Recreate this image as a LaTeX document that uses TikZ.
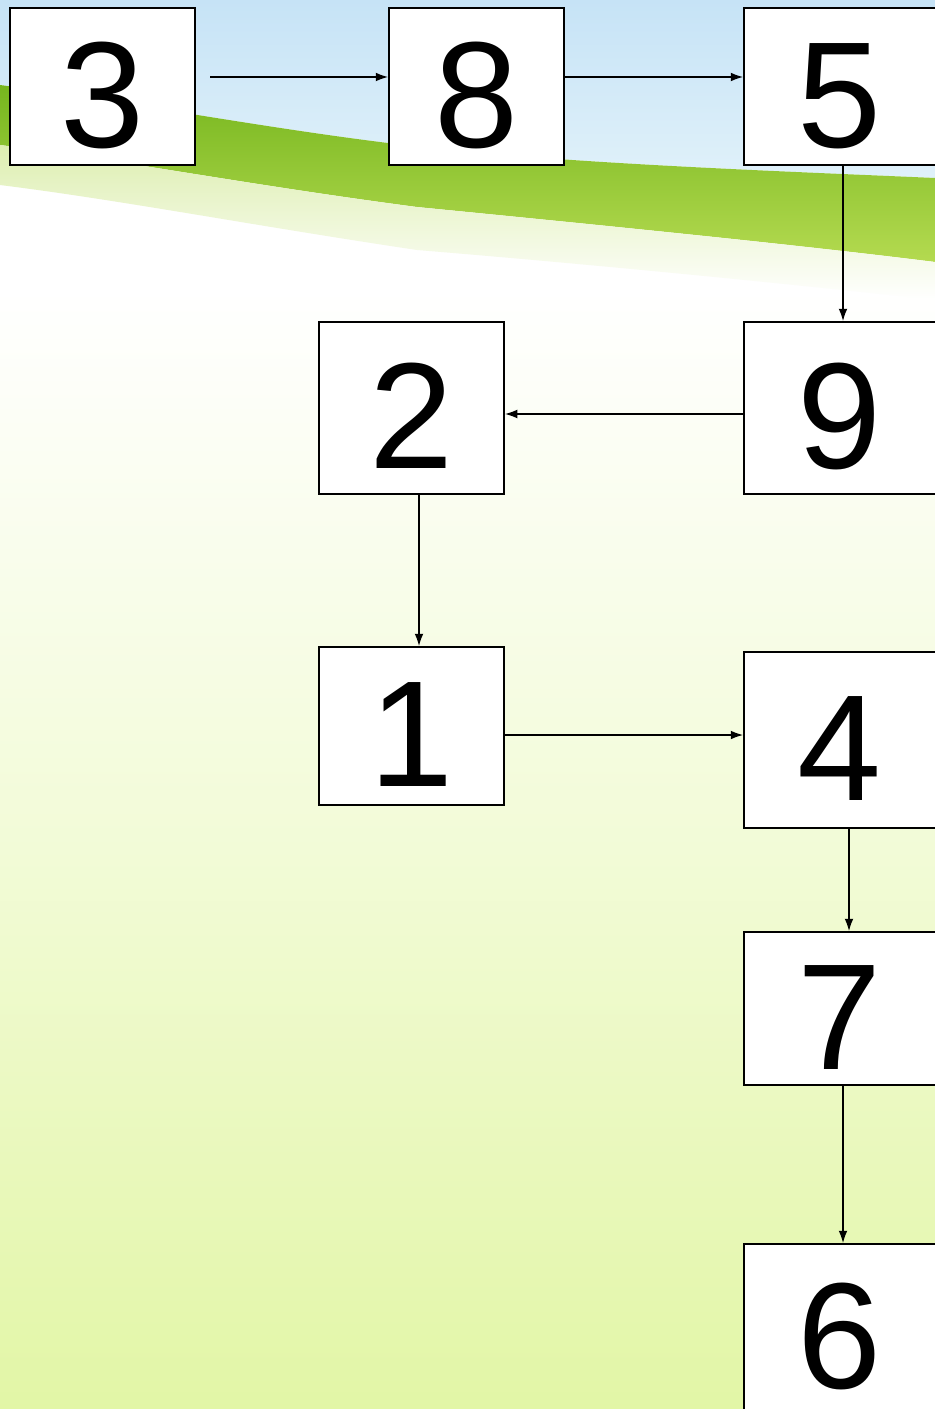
\documentclass[tikz,border=0pt]{standalone}
\usepackage{fontspec}
\setmainfont{Liberation Sans}
\usetikzlibrary{arrows.meta,positioning,calc}

\definecolor{skytop}{RGB}{198,227,246}
\definecolor{skylow}{RGB}{224,241,250}
\definecolor{grassdark}{RGB}{118,182,30}
\definecolor{grasslight}{RGB}{180,218,80}
\definecolor{meadow}{RGB}{226,246,166}

\tikzset{
  numbox/.style={draw, line width=1.1pt, fill=white, inner sep=0pt,
    text height=69pt, text depth=0pt,
    font=\fontsize{86}{90}\selectfont},
  link/.style={-{Latex[length=7pt,width=5pt]}, line width=0.75pt},
}

\begin{document}
\begin{tikzpicture}[x=0.02cm,y=-0.02cm]
\useasboundingbox (0,0) rectangle (935,1409);
\clip (0,0) rectangle (935,1409);
% background
\fill[white] (0,0) rectangle (935,1409);
\shade[top color=white, bottom color=meadow, middle color=meadow!45!white] (0,290) rectangle (935,1409);
\shade[top color=skytop, bottom color=skylow] (0,0) -- (935,0) -- (935,178)
  .. controls (800,172) and (600,165) .. (450,150)
  .. controls (300,135) and (150,105) .. (0,85) -- cycle;
\shade[top color=grassdark, bottom color=grasslight] (0,85)
  .. controls (150,105) and (300,135) .. (450,150)
  .. controls (600,165) and (800,172) .. (935,178) -- (935,262)
  .. controls (800,245) and (600,225) .. (417,207)
  .. controls (250,185) and (120,160) .. (0,145) -- cycle;
\shade[top color=grasslight!45!white, bottom color=white] (0,145)
  .. controls (120,160) and (250,185) .. (417,207)
  .. controls (600,225) and (800,245) .. (935,262) -- (935,300)
  .. controls (800,285) and (600,265) .. (417,250)
  .. controls (250,225) and (120,200) .. (0,185) -- cycle;

% boxes
\node[numbox, minimum width=3.7cm, minimum height=3.14cm] (n3) at (102.5,86.5) {3};
\node[numbox, minimum width=3.5cm, minimum height=3.14cm] (n8) at (476.5,86.5) {8};
\node[numbox, minimum width=3.84cm, minimum height=3.14cm] (n5) at (840,86.5) {5};
\node[numbox, minimum width=3.84cm, minimum height=3.44cm] (n9) at (840,408) {9};
\node[numbox, minimum width=3.7cm, minimum height=3.44cm] (n2) at (411.5,408) {2};
\node[numbox, minimum width=3.7cm, minimum height=3.16cm] (n1) at (411.5,726) {1};
\node[numbox, minimum width=3.84cm, minimum height=3.52cm] (n4) at (840,740) {4};
\node[numbox, minimum width=3.84cm, minimum height=3.06cm] (n7) at (840,1008.5) {7};
\node[numbox, minimum width=3.84cm, minimum height=3.36cm] (n6) at (840,1328) {6};

% arrows
\coordinate (s3) at (210,77);
\draw[link] (s3) -- (n8.west |- s3);
\draw[link] (n8.east |- s3) -- (n5.west |- s3);
\draw[link] ([xshift=0.06cm]n5.south) -- ([xshift=0.06cm]n9.north);
\draw[link] ([yshift=-0.12cm]n9.west) -- ([yshift=-0.12cm]n2.east);
\draw[link] ([xshift=0.15cm]n2.south) -- ([xshift=0.15cm]n1.north);
\draw[link] ([yshift=-0.18cm]n1.east) -- ([yshift=-0.18cm]n1.east -| n4.west);
\draw[link] ([xshift=0.18cm]n4.south) -- ([xshift=0.18cm]n7.north);
\draw[link] ([xshift=0.06cm]n7.south) -- ([xshift=0.06cm]n6.north);
\end{tikzpicture}
\end{document}
